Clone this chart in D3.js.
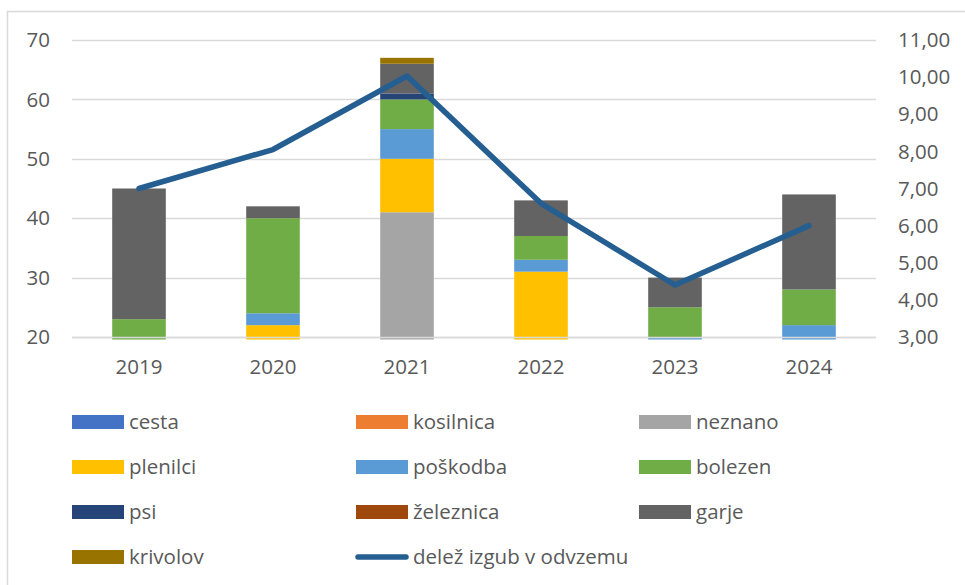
<!DOCTYPE html>
<html>
<head>
<meta charset="utf-8">
<script src="https://cdn.jsdelivr.net/npm/d3@7"></script>
<style>
  body { margin: 0; background: #fff; }
  text { font-family: "Open Sans", sans-serif; fill: #595959; }
</style>
</head>
<body>
<svg class="chart" width="965" height="585"></svg>
<script>
// categories and series (values below 20 are hidden by the axis, estimated)
var years = ["2019", "2020", "2021", "2022", "2023", "2024"];
var seriesNames = ["cesta", "kosilnica", "neznano", "plenilci", "poškodba", "bolezen", "psi", "železnica", "garje", "krivolov"];
var seriesColors = ["#4472C4", "#ED7D31", "#A5A5A5", "#FFC000", "#5B9BD5", "#70AD47", "#264478", "#9E480E", "#636363", "#997300"];

var cesta     = [5, 6, 4, 5, 4, 5];
var kosilnica = [2, 2, 1, 1, 1, 1];
var neznano   = [6, 8, 36, 10, 10, 8];
var plenilci  = [4, 6, 9, 15, 3, 4];
var poskodba  = [2, 2, 5, 2, 2, 4];
var bolezen   = [4, 16, 5, 4, 5, 6];
var psi       = [0, 0, 1, 0, 0, 0];
var zeleznica = [0, 0, 0, 0, 0, 0];
var garje     = [22, 2, 5, 6, 5, 16];
var krivolov  = [0, 0, 1, 0, 0, 0];

var delez = [7.0, 8.05, 10.03, 6.6, 4.4, 6.0];
var lineName = "delež izgub v odvzemu";

var leftTicks = [20, 30, 40, 50, 60, 70];
var rightTicks = [3, 4, 5, 6, 7, 8, 9, 10, 11];

var seriesValues = [cesta, kosilnica, neznano, plenilci, poskodba, bolezen, psi, zeleznica, garje, krivolov];

var rows = years.map(function (y, i) {
    var r = { year: y };
    seriesNames.forEach(function (s, j) { r[s] = seriesValues[j][i]; });
    return r;
});

var svg = d3.select(".chart");

// chart border
svg.append("rect")
    .attr("x", 7.5).attr("y", 11.5)
    .attr("width", 1000).attr("height", 1000)
    .attr("fill", "none").attr("stroke", "#D9D9D9").attr("stroke-width", 1.5);

var plotLeft = 72, plotRight = 876, plotTop = 40, plotBottom = 337;
var fontSize = "20.5px";

var x = d3.scaleBand().domain(years).range([plotLeft, plotRight]).paddingInner(0.6).paddingOuter(0.3);
var y = d3.scaleLinear().domain([20, 70]).range([plotBottom, plotTop]);
var y2 = d3.scaleLinear().domain([3, 11]).range([plotBottom, plotTop]);

// gridlines
svg.append("g").selectAll("line")
    .data(leftTicks)
    .enter().append("line")
    .attr("x1", plotLeft).attr("x2", plotRight)
    .attr("y1", function (d) { return Math.round(y(d)) + 0.5; })
    .attr("y2", function (d) { return Math.round(y(d)) + 0.5; })
    .attr("stroke", "#D9D9D9").attr("stroke-width", 1.3);

svg.append("clipPath").attr("id", "plotclip")
    .append("rect").attr("x", plotLeft).attr("y", 0)
    .attr("width", plotRight - plotLeft).attr("height", plotBottom + 2.5);

var stack = d3.stack().keys(seriesNames)(rows);

svg.append("g").attr("clip-path", "url(#plotclip)")
    .selectAll("g")
    .data(stack)
    .enter().append("g")
    .attr("fill", function (d, i) { return seriesColors[i]; })
    .selectAll("rect")
    .data(function (d) { return d; })
    .enter().append("rect")
    .attr("x", function (d) { return x(d.data.year); })
    .attr("width", x.bandwidth())
    .attr("y", function (d) { return y(d[1]); })
    .attr("height", function (d) { return Math.max(0, y(d[0]) - y(d[1])); });

// axis line on top
svg.append("line")
    .attr("x1", plotLeft).attr("x2", plotRight)
    .attr("y1", Math.round(y(20)) + 0.5).attr("y2", Math.round(y(20)) + 0.5)
    .attr("stroke", "#D9D9D9").attr("stroke-width", 1.3);

// line series
var line = d3.line()
    .x(function (d, i) { return x(years[i]) + x.bandwidth() / 2; })
    .y(function (d) { return y2(d); });

svg.append("path")
    .datum(delez)
    .attr("d", line)
    .attr("fill", "none")
    .attr("stroke", "#255E91")
    .attr("stroke-width", 5.5)
    .attr("stroke-linecap", "round")
    .attr("stroke-linejoin", "round");

// axes labels
var fmt = function (v) { return v.toFixed(2).replace(".", ","); };

svg.append("g").selectAll("text")
    .data(leftTicks)
    .enter().append("text")
    .attr("x", 50).attr("y", function (d) { return y(d); })
    .attr("dy", "0.35em")
    .attr("text-anchor", "end")
    .style("font-size", fontSize)
    .text(function (d) { return d; });

svg.append("g").selectAll("text")
    .data(rightTicks)
    .enter().append("text")
    .attr("x", 898).attr("y", function (d) { return y2(d); })
    .attr("dy", "0.35em")
    .style("font-size", fontSize)
    .text(fmt);

svg.append("g").selectAll("text")
    .data(years)
    .enter().append("text")
    .attr("x", function (d) { return x(d) + x.bandwidth() / 2; })
    .attr("y", 367)
    .attr("dy", "0.35em")
    .attr("text-anchor", "middle")
    .style("font-size", fontSize)
    .text(function (d) { return d; });

// legend
var legendItems = seriesNames.map(function (s, i) { return { name: s, color: seriesColors[i], type: "bar" }; });
legendItems.push({ name: lineName, color: "#255E91", type: "line" });

var colX = [72, 356, 639];
var leg = svg.append("g").selectAll("g")
    .data(legendItems)
    .enter().append("g")
    .attr("transform", function (d, i) {
        return "translate(" + colX[i % 3] + "," + (422 + Math.floor(i / 3) * 45) + ")";
    });

leg.filter(function (d) { return d.type == "bar"; })
    .append("rect")
    .attr("x", 0).attr("y", -7)
    .attr("width", 52).attr("height", 14)
    .attr("fill", function (d) { return d.color; });

leg.filter(function (d) { return d.type == "line"; })
    .append("line")
    .attr("x1", 2).attr("x2", 50).attr("y1", 0).attr("y2", 0)
    .attr("stroke", function (d) { return d.color; })
    .attr("stroke-width", 5.5)
    .attr("stroke-linecap", "round");

leg.append("text")
    .attr("x", 57).attr("y", 0)
    .attr("dy", "0.35em")
    .style("font-size", fontSize)
    .text(function (d) { return d.name; });
</script>
</body>
</html>
